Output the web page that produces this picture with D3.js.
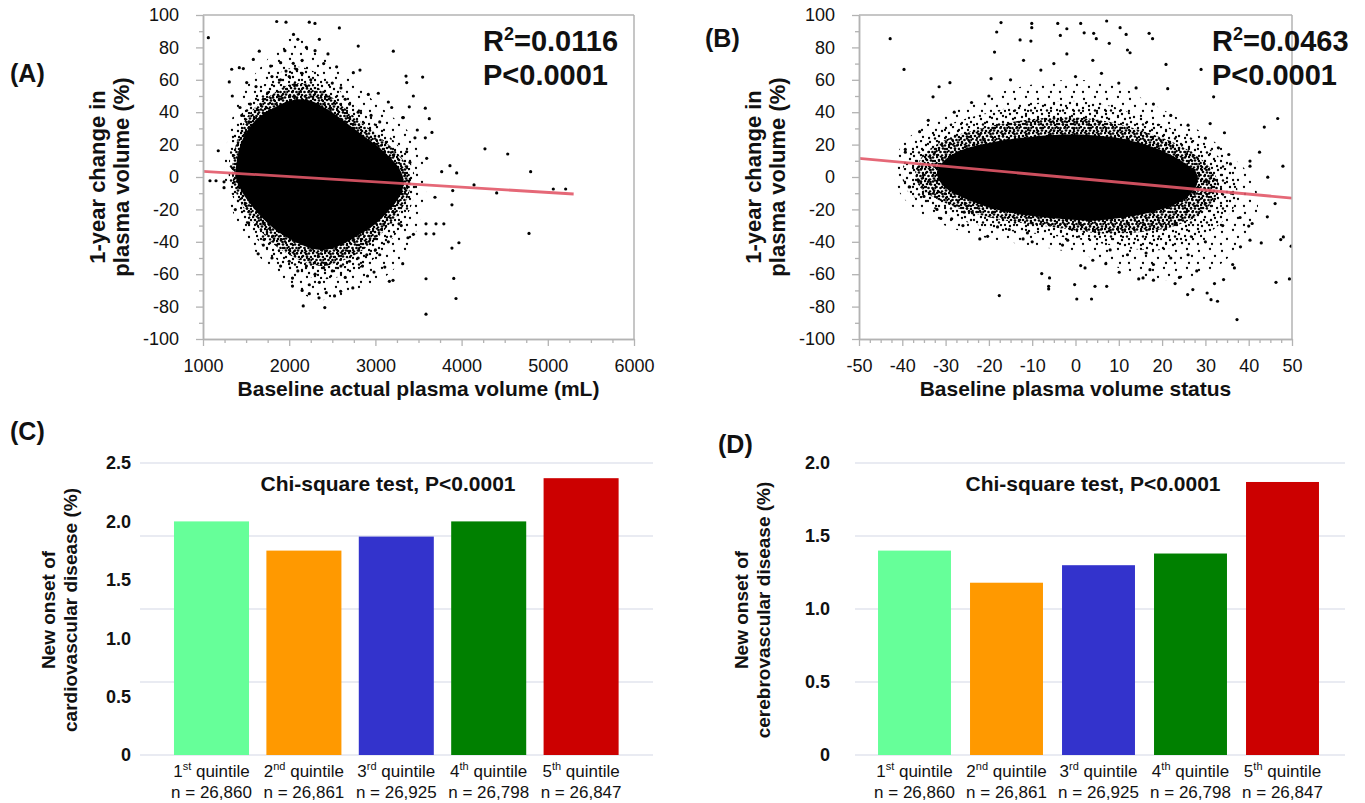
<!DOCTYPE html>
<html><head><meta charset="utf-8">
<script src="https://cdn.jsdelivr.net/npm/d3@7"></script>
<style>
body{margin:0;background:#fff}
svg{display:block}
text{font-family:"Liberation Sans",Arial,Helvetica,sans-serif;fill:#111}
</style>
</head><body>
<svg id="chart" width="1365" height="803"></svg>
<script>
// ---------------- DATA ----------------
const quintiles = ["1", "2", "3", "4", "5"];
const ordinalSuffix = ["st", "nd", "rd", "th", "th"];
const groupCounts = ["26,860", "26,861", "26,925", "26,798", "26,847"];
const barColors = ["#66ff99", "#ff9900", "#3333cc", "#008000", "#cc0000"];
const cvdOnset = [2.0, 1.75, 1.87, 2.0, 2.37];
const cbvdOnset = [1.40, 1.18, 1.30, 1.38, 1.87];
const cvdTicks = [0, 0.5, 1.0, 1.5, 2.0, 2.5];
const cvdGrid = [0, 0.625, 1.25, 1.875, 2.5];
const cbvdTicks = [0, 0.5, 1.0, 1.5, 2.0];
const cbvdGrid = [0, 0.5, 1.0, 1.5, 2.0];
const cvdTickLabels = ["0", "0.5", "1.0", "1.5", "2.0", "2.5"];
const cbvdTickLabels = ["0", "0.5", "1.0", "1.5", "2.0"];

const volumeTicks = [1000, 2000, 3000, 4000, 5000, 6000];
const statusTicks = [-50, -40, -30, -20, -10, 0, 10, 20, 30, 40, 50];
const changeTicks = [-100, -80, -60, -40, -20, 0, 20, 40, 60, 80, 100];

const fitA = [[1000, 3.5], [5300, -10.5]];
const fitB = [[-50, 11.5], [50, -13]];

// dense cloud outlines (data units) for panel A: solid core, dense fringe, mid band, sparse halo
const coreA = [[1380,0],[1400,12],[1450,22],[1530,30],[1650,37],[1800,42],[1950,46],[2100,48],[2250,47],[2400,43],[2550,38],[2700,32],[2850,26],[3000,20],[3150,13],[3280,5],[3330,-3],[3280,-12],[3150,-21],[3000,-29],[2800,-36],[2600,-42],[2400,-45],[2200,-43],[2000,-38],[1850,-33],[1700,-26],[1570,-18],[1450,-9]];
const fringeA = [[1340,0],[1360,15],[1420,27],[1510,37],[1640,45],[1800,51],[1950,56],[2100,58],[2250,57],[2400,53],[2550,47],[2700,40],[2850,33],[3000,27],[3150,20],[3300,12],[3400,2],[3390,-10],[3300,-20],[3150,-30],[2980,-40],[2800,-47],[2600,-52],[2400,-55],[2200,-53],[2000,-48],[1830,-42],[1680,-34],[1530,-24],[1400,-12]];
const midA = [[1300,0],[1320,18],[1390,32],[1500,44],[1640,54],[1800,61],[1950,66],[2100,68],[2250,66],[2400,61],[2550,55],[2700,48],[2850,40],[3000,33],[3150,26],[3300,17],[3430,6],[3460,-8],[3400,-20],[3280,-32],[3120,-43],[2950,-52],[2750,-58],[2550,-62],[2350,-63],[2150,-60],[1950,-55],[1780,-47],[1620,-38],[1470,-26],[1350,-13]];
const haloA = [[1250,0],[1280,22],[1360,40],[1480,55],[1640,66],[1800,76],[1950,84],[2100,86],[2250,82],[2400,75],[2600,65],[2800,56],[3000,46],[3200,37],[3400,27],[3550,12],[3600,-5],[3550,-22],[3420,-40],[3250,-55],[3050,-64],[2800,-70],[2550,-74],[2350,-76],[2150,-72],[1950,-64],[1750,-55],[1580,-44],[1420,-30],[1300,-15]];
const outliersA = [[1062,86],[1855,96],[1963,95.6],[2233,95.6],[2299,94.8],[2582,92],[3208,77.7],[2801,80.8],[1653,77.7],[1584,72.6],[1333,66.5],[1421,67.5],[1468,66.9],[1305,58.7],[1340,50],[1429,42.9],[1507,58.3],[1615,55.8],[1785,68.5],[1901,70.6],[1963,65.4],[2047,70.2],[2087,66.5],[2821,66],[2744,64.4],[2918,51],[3034,51.7],[3150,46.3],[3189,42.9],[3324,36.7],[3363,15.6],[3401,9],[1081,-2.3],[1151,-2.3],[1244,-3],[1244,-6.6],[1177,16.2],
[3355,62.3],[3548,61.7],[3363,58.3],[3440,50],[3393,43.3],[3579,42.5],[3317,36.7],[3625,36],[3486,29],[3656,27.5],[3459,24.2],[3579,24.2],[4271,17.4],[4535,14.2],[4801,3.3],[3865,7],[3943,2.5],[3769,3.3],[3595,11.5],[4144,-4.9],[4407,-9.8],[3897,-8.4],[5064,-7.4],[5207,-7.4],[3691,-12.5],
[1375,-20.1],[1529,-28.3],[1708,-38.6],[1640,-47.4],[2038,-62.4],[2038,-67.3],[2163,-79.6],[2233,-66.5],[2233,-72],[2346,-74.6],[2413,-80.6],[2430,-71.4],[2526,-73.4],[2597,-70.6],[2738,-68.5],[2909,-61.1],[2984,-58.7],[3109,-55.6],[3162,-64.4],[3204,-63.8],[3317,-53.5],[3587,-28.9],[3587,-35.1],[3587,-62.8],[3587,-84.7],[3703,-28.9],[3794,-28.9],[3678,-35.1],[3888,-17.2],[3888,-43.9],[3909,-62.6],[3935,-75],[3969,-40.6],[4782,-34.8],[3274,-28.9],[3378,-37.5],[3441,-35.4],
[1900,60],[2000,62],[2150,64],[2200,80],[2100,85],[2350,85],[2250,60],[2400,70],[2500,58],[2600,55],[1800,62],[1750,52],[1700,48],[2650,48],[2700,45],[2800,40],[2950,38],[3050,34],[1550,45],[1450,38],[2050,88],[2300,78],[2450,76],[2150,72],[1950,78],[2550,68],
[1800,-50],[1900,-55],[2000,-52],[2100,-58],[2200,-55],[2300,-60],[2400,-56],[2500,-58],[2600,-55],[2700,-52],[2800,-50],[2900,-48],[3000,-45],[1700,-42],[2150,-70],[2350,-65],[2650,-62],[2850,-55],[3050,-48],[3150,-40],[3300,-30]];

// dense cloud outlines for panel B
const coreB = [[-32,3],[-30,11],[-26,17],[-20,21],[-13,24],[-5,26],[3,26],[10,24],[16,20],[21,15],[25,9],[28,2],[28,-5],[26,-12],[22,-18],[17,-22],[11,-25],[4,-27],[-3,-26],[-10,-24],[-17,-21],[-23,-16],[-28,-10],[-31,-4]];
const fringeB = [[-37,3],[-35,14],[-30,23],[-22,30],[-12,35],[-2,37],[8,34],[16,28],[22,22],[27,15],[31,6],[33,-4],[32,-14],[28,-24],[22,-31],[15,-34],[7,-35],[0,-33],[-8,-30],[-16,-27],[-24,-22],[-31,-15],[-36,-6]];
const midB = [[-40,3],[-38,17],[-33,28],[-24,37],[-13,44],[-2,47],[8,44],[16,36],[23,29],[29,21],[34,10],[37,-2],[37,-16],[33,-30],[27,-40],[20,-45],[12,-44],[4,-40],[-6,-36],[-16,-33],[-25,-28],[-33,-19],[-39,-8]];
const haloB = [[-42,5],[-40,20],[-34,33],[-24,46],[-12,56],[0,60],[10,56],[17,46],[24,36],[30,26],[36,13],[41,-2],[42,-22],[38,-42],[31,-58],[22,-64],[12,-58],[4,-50],[-6,-44],[-16,-40],[-27,-33],[-36,-22],[-41,-8]];
const outliersB = [[-42.8,85.4],[-39.6,66.4],[-39.3,17],[-39.3,15.3],[-38.4,-6.1],[-31.5,55.7],[-32.9,49.5],[-29,58.2],[-19.5,60.7],[-18.7,77.1],[-17.2,95.3],[-18.2,89.5],[-10.1,94.8],[-10.1,92.2],[-10.3,83.9],[-12.8,84.6],[-4.1,94.8],[-3.5,87.4],[-2,91.5],[1.2,94.8],[2,89],[4.2,88.7],[4.8,85.4],[7.2,96.3],[10.3,92.2],[7.8,82.5],[11.7,88],[12,78.4],[12.6,76.7],[17,88.7],[17.8,85.4],[20.9,69.5],[21.3,54.5],[29,66.4],[31.9,49.5],[31.1,33],[34.4,27.3],[35.4,13.9],[35.8,8.1],[40.3,9.8],[40.3,6.7],[42.5,15.3],[43.6,30.8],[44.4,-0.1],[46.7,36.1],[47.9,6.7],
[49.8,-42.7],[49.4,-62.9],[46.3,-65],[46.1,-16.4],[44.3,-24.6],[48,-37],[47.4,-38.6],[42.9,-40.7],[40,-30.3],[40.8,-28.7],[37.3,-88],[36.3,-54],[36.7,-56.1],[38.1,-43.1],[40.3,-39],[34.2,-63.3],[32.1,-65.8],[30.4,-71.6],[31.3,-75.7],[32.8,-76.7],[27.1,-69.5],[25.9,-72.6],[23,-65.8],[18,-63.7],[17.2,-57.2],[14.6,-62.9],[10.1,-58.8],[7.2,-67.5],[4.5,-67.5],[3.7,-75.3],[0.3,-75.3],[-0.2,-66.4],[-6,-62.3],[-6.2,-67.5],[-6.2,-69.1],[-7.8,-59.6],[-17.6,-73.2],[-22.1,-38.2],[-20.3,-36.6],[-23.8,-22.1],[-25.7,-21.7],[-28.6,-25.8],[-31.1,-25.6],[-18,-30.8],[-15.3,-32.4],[-12.1,-38.2],[-11.1,-34.5],[-1.8,-39],[1.2,-54.7],[2.2,-56.1],[4,-51.4],[7,-53.5],[15.6,-62.3],[16.3,-46.9],
[-15,60],[-8,66],[-5,70],[0,62],[4,72],[-12,72],[-2,76],[6,64],[10,58],[14,55],[-20,50],[-24,46],[-28,40],[-34,35],[-36,28],[18,45],[22,38],[26,32],[30,24],[33,18],[36,-10],[38,-25],[34,-30],[30,-40],[26,-48],[22,-50],[18,-54],[12,-48],[8,-45],[-3,-42],[-10,-40],[-26,-30],[-32,-20],[-35,-12],[28,-58],[24,-62]];

// ---------------- DRAW ----------------
const svg = d3.select("#chart");
const defs = svg.append("defs");

function speckle(id, w, h, dots, r) {
  const p = defs.append("pattern").attr("id", id).attr("patternUnits", "userSpaceOnUse")
    .attr("width", w).attr("height", h);
  dots.forEach(d => p.append("circle").attr("cx", d[0]).attr("cy", d[1]).attr("r", r).attr("fill", "#000"));
}
speckle("speckDense", 12, 12, [[1,1],[5,0.5],[9,1.5],[3,4],[7,4.5],[11,5],[0.5,7],[4.5,8],[8.5,8],[2,11],[6,11.5],[10,10.5],[11.5,8],[6.5,2]], 1.35);
speckle("speckMid", 16, 14, [[2,2],[9,1],[14,5],[5,7],[11,10],[1,12],[7,12.5]], 1.2);
speckle("speckSparse", 23, 19, [[3,4],[14,2],[8,11],[19,9],[2,16],[16,16]], 1.15);

const axisGray = "#b3b3b3";

function scatterPanel(opts) {
  const {x, y, layers, pts, fit, xTicks, minorX, clipId, r2x, xTitle} = opts;
  const [x0, x1] = x.range();
  const [y0, y1] = y.range();
  const g = svg.append("g");
  defs.append("clipPath").attr("id", clipId).append("rect")
    .attr("x", x0).attr("y", y1).attr("width", x1 - x0).attr("height", y0 - y1);
  const plot = g.append("g").attr("clip-path", `url(#${clipId})`);
  const area = d3.line().x(d => x(d[0])).y(d => y(d[1])).curve(d3.curveCatmullRomClosed);
  const fills = ["url(#speckSparse)", "url(#speckMid)", "url(#speckDense)", "#000"];
  layers.forEach((poly, i) => plot.append("path").attr("d", area(poly)).attr("fill", fills[i]));
  plot.selectAll("circle.pt").data(pts).join("circle").attr("class", "pt")
    .attr("cx", d => x(d[0])).attr("cy", d => y(d[1])).attr("r", 1.6).attr("fill", "#000");
  plot.append("line")
    .attr("x1", x(fit[0][0])).attr("y1", y(fit[0][1]))
    .attr("x2", x(fit[1][0])).attr("y2", y(fit[1][1]))
    .attr("stroke", "#e25868").attr("stroke-width", 2.8).attr("stroke-opacity", 0.9);

  g.append("line").attr("x1", x0).attr("x2", x1).attr("y1", y1).attr("y2", y1).attr("stroke", axisGray).attr("stroke-width", 1.5);
  g.append("line").attr("x1", x1).attr("x2", x1).attr("y1", y1).attr("y2", y0).attr("stroke", axisGray).attr("stroke-width", 1.5);

  const minorY = d3.range(-90, 100, 20);
  g.append("g").attr("transform", `translate(${x0},0)`)
    .call(d3.axisLeft(y).tickValues(minorY).tickSize(4).tickSizeOuter(0).tickFormat(""));
  g.append("g").attr("transform", `translate(0,${y0})`)
    .call(d3.axisBottom(x).tickValues(minorX).tickSize(4).tickSizeOuter(0).tickFormat(""));
  g.append("g").attr("class", "ax").attr("transform", `translate(${x0},0)`)
    .call(d3.axisLeft(y).tickValues(changeTicks).tickSize(7).tickSizeOuter(0).tickPadding(17).tickFormat(d => String(d)));
  g.append("g").attr("class", "ax").attr("transform", `translate(0,${y0})`)
    .call(d3.axisBottom(x).tickValues(xTicks).tickSize(7).tickSizeOuter(0).tickPadding(13).tickFormat(d => String(d)));
  g.selectAll("path.domain").attr("stroke", axisGray).attr("stroke-width", 1.5);
  g.selectAll(".tick line").attr("stroke", axisGray).attr("stroke-width", 1.3);
  g.selectAll(".ax .tick text").attr("font-size", 18).attr("fill", "#111")
    .style("font-family", '"Liberation Sans", Arial, sans-serif');

  g.append("text").attr("x", (x0 + x1) / 2).attr("y", 396).attr("text-anchor", "middle")
    .attr("font-size", 21).attr("font-weight", "bold").text(xTitle);
  const yt = g.append("text").attr("transform", `translate(${x0 - 98},${(y0 + y1) / 2}) rotate(-90)`)
    .attr("text-anchor", "middle").attr("font-size", 22).attr("font-weight", "bold");
  yt.append("tspan").attr("x", 0).attr("y", 0).text("1-year change in");
  yt.append("tspan").attr("x", 0).attr("y", 24).text("plasma volume (%)");

  const st = g.append("text").attr("font-size", 29).attr("font-weight", "bold");
  const l1 = st.append("tspan").attr("x", r2x).attr("y", 51);
  l1.append("tspan").text("R");
  l1.append("tspan").attr("font-size", 18).attr("dy", -11).text("2");
  l1.append("tspan").attr("dy", 11).text("=" + opts.r2);
  st.append("tspan").attr("x", r2x).attr("y", 85).text("P<0.0001");
}

const yChange = d3.scaleLinear().domain([-100, 100]).range([339, 15]);
const xVolume = d3.scaleLinear().domain([1000, 6000]).range([203, 634]);
const xStatus = d3.scaleLinear().domain([-50, 50]).range([859, 1292]);

scatterPanel({x: xVolume, y: yChange, layers: [haloA, midA, fringeA, coreA], pts: outliersA, fit: fitA,
  xTicks: volumeTicks, minorX: d3.range(1250, 6000, 250).filter(v => v % 1000 !== 0), clipId: "clipA",
  r2x: 483, r2: "0.0116", xTitle: "Baseline actual plasma volume (mL)"});
scatterPanel({x: xStatus, y: yChange, layers: [haloB, midB, fringeB, coreB], pts: outliersB, fit: fitB,
  xTicks: statusTicks, minorX: d3.range(-47.5, 50, 2.5).filter(v => v % 10 !== 0), clipId: "clipB",
  r2x: 1212, r2: "0.0463", xTitle: "Baseline plasma volume status"});

// ---------- bar panels ----------
function barPanel(opts) {
  const {values, ticks, tickLabels, grid, domainMax, gridX, bandRange, pad, labelX, title2, chiX} = opts;
  const g = svg.append("g");
  const y = d3.scaleLinear().domain([0, domainMax]).range([755, 463]);
  const x = d3.scaleBand().domain(quintiles).range(bandRange).paddingInner(pad).paddingOuter(pad / 2);
  g.selectAll("line.grid").data(grid).join("line").attr("class", "grid")
    .attr("x1", gridX[0]).attr("x2", gridX[1]).attr("y1", d => y(d)).attr("y2", d => y(d))
    .attr("stroke", "#e2e5ee").attr("stroke-width", 1.6);
  g.selectAll("rect.bar").data(values).join("rect").attr("class", "bar")
    .attr("x", (d, i) => x(quintiles[i])).attr("width", x.bandwidth())
    .attr("y", d => y(d)).attr("height", d => y(0) - y(d))
    .attr("fill", (d, i) => barColors[i]);
  g.selectAll("text.yl").data(ticks).join("text").attr("class", "yl")
    .attr("x", labelX).attr("y", d => y(d)).attr("dy", "0.36em").attr("text-anchor", "end")
    .attr("font-size", 18).attr("font-weight", "bold").text((d, i) => tickLabels[i]);
  quintiles.forEach((q, i) => {
    const cx = x(q) + x.bandwidth() / 2;
    const t = g.append("text").attr("x", cx).attr("y", 777).attr("text-anchor", "middle").attr("font-size", 17);
    t.append("tspan").text(q);
    t.append("tspan").attr("font-size", 11).attr("dy", -7).text(ordinalSuffix[i]);
    t.append("tspan").attr("dy", 7).text(" quintile");
    g.append("text").attr("x", cx).attr("y", 798).attr("text-anchor", "middle").attr("font-size", 17)
      .text("n = " + groupCounts[i]);
  });
  g.append("text").attr("x", chiX).attr("y", 491).attr("text-anchor", "middle")
    .attr("font-size", 21).attr("font-weight", "bold").text("Chi-square test, P<0.0001");
  const yt = g.append("text").attr("transform", `translate(${opts.titleX},610) rotate(-90)`)
    .attr("text-anchor", "middle").attr("font-size", 19).attr("font-weight", "bold");
  yt.append("tspan").attr("x", 0).attr("y", 0).text("New onset of");
  yt.append("tspan").attr("x", 0).attr("y", 22).text(title2);
}

barPanel({values: cvdOnset, ticks: cvdTicks, tickLabels: cvdTickLabels, grid: cvdGrid, domainMax: 2.5,
  gridX: [140, 653], bandRange: [165.3, 627.3], pad: 0.188, labelX: 131, title2: "cardiovascular disease (%)",
  chiX: 388, titleX: 55});
barPanel({values: cbvdOnset, ticks: cbvdTicks, tickLabels: cbvdTickLabels, grid: cbvdGrid, domainMax: 2.0,
  gridX: [855, 1345], bandRange: [868.5, 1328.5], pad: 0.207, labelX: 830, title2: "cerebrovascular disease (%)",
  chiX: 1093, titleX: 748});

const letters = [["(A)", 10, 82], ["(B)", 705, 47], ["(C)", 10, 440], ["(D)", 718, 453]];
svg.selectAll("text.letter").data(letters).join("text").attr("class", "letter")
  .attr("x", d => d[1]).attr("y", d => d[2]).attr("font-size", 25).attr("font-weight", "bold").text(d => d[0]);
</script>
</body></html>
